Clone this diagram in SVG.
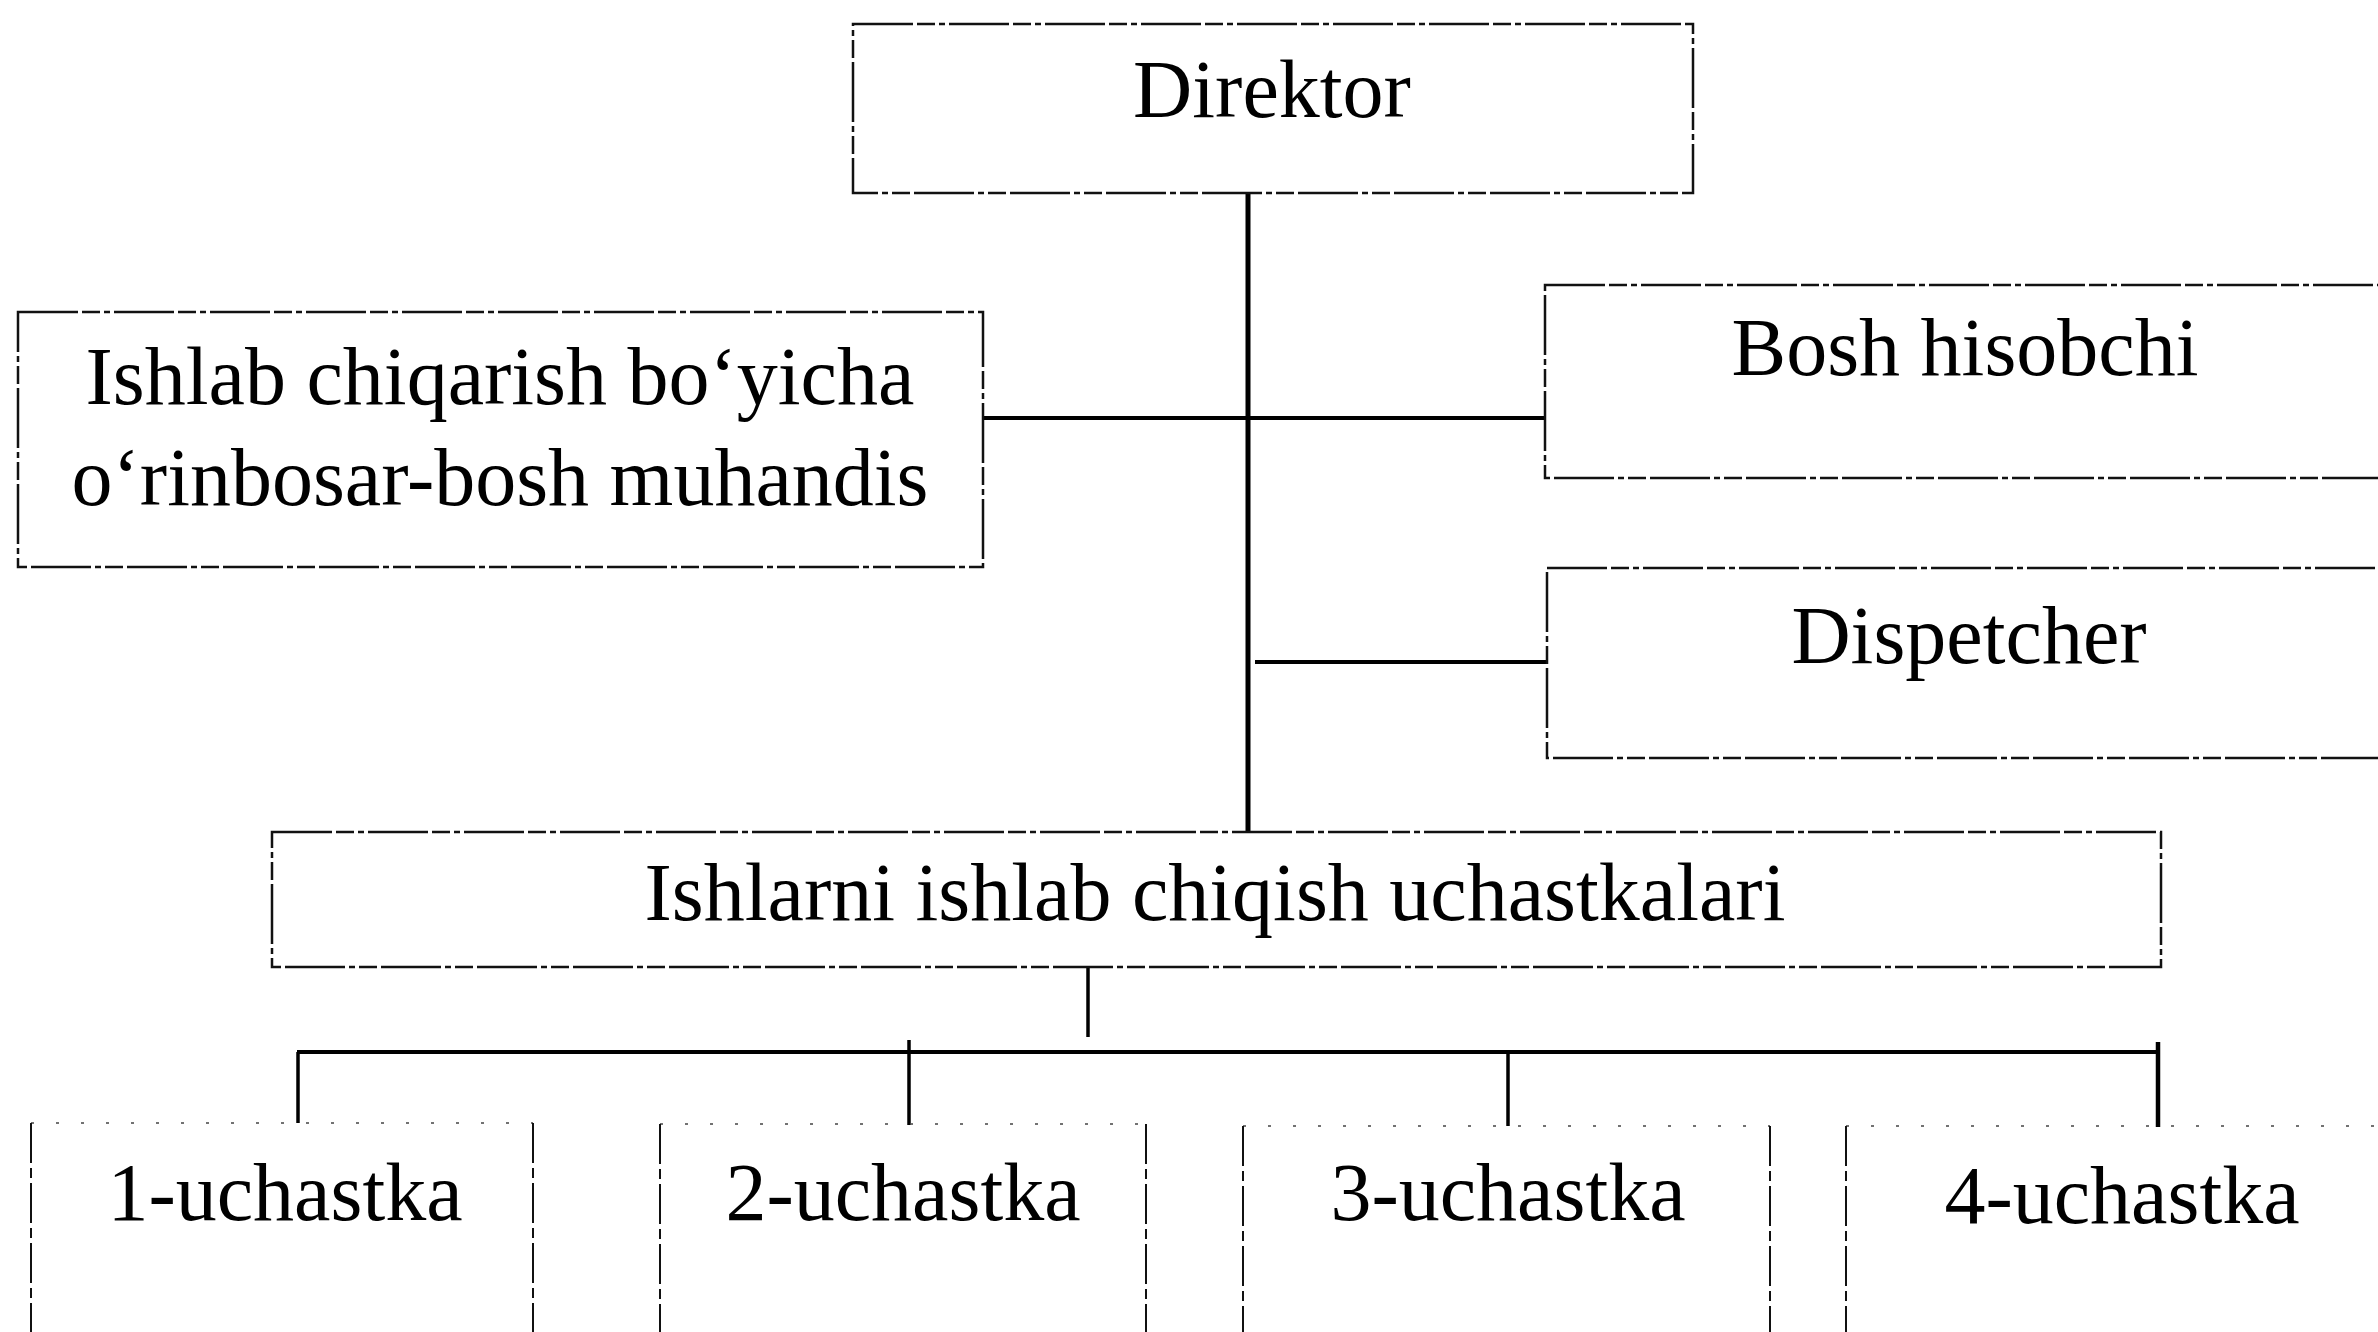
<svg xmlns="http://www.w3.org/2000/svg" width="2378" height="1332" viewBox="0 0 2378 1332">
<style>
.box{fill:none;stroke:#111;stroke-width:2.5;stroke-dasharray:60 4 18 4 6 4}
.ubox{fill:none;stroke:#111;stroke-width:2;stroke-dasharray:40 5 10 5}
.utop{fill:none;stroke:#444;stroke-width:1.5;stroke-dasharray:3 22}
.t{font-family:"Liberation Serif","Times New Roman",serif;font-size:82px;fill:#000;text-anchor:middle}
.c{stroke:#000;fill:none;stroke-linecap:butt}
</style>
<rect width="2378" height="1332" fill="#fff"/>
<g id="connectors">
<line class="c" x1="1248" y1="193" x2="1248" y2="832" stroke-width="5"/>
<line class="c" x1="983" y1="418" x2="1545" y2="418" stroke-width="4"/>
<line class="c" x1="1255" y1="662" x2="1547" y2="662" stroke-width="4"/>
<line class="c" x1="1088" y1="967" x2="1088" y2="1037" stroke-width="3.5"/>
<line class="c" x1="297" y1="1052" x2="2160" y2="1052" stroke-width="4"/>
<line class="c" x1="298" y1="1052" x2="298" y2="1123" stroke-width="3.5"/>
<line class="c" x1="909" y1="1040" x2="909" y2="1125" stroke-width="3.5"/>
<line class="c" x1="1508" y1="1052" x2="1508" y2="1126" stroke-width="3.5"/>
<line class="c" x1="2158" y1="1042" x2="2158" y2="1127" stroke-width="4.5"/>
</g>
<g id="direktor">
<rect class="box" x="853" y="24" width="840" height="169"/>
<text class="t" x="1272" y="117">Direktor</text>
</g>
<g id="bosh-muhandis">
<rect class="box" x="18" y="312" width="965" height="255"/>
<text class="t" x="500" y="404">Ishlab chiqarish bo‘yicha</text>
<text class="t" x="500" y="505">o‘rinbosar-bosh muhandis</text>
</g>
<g id="bosh-hisobchi">
<rect class="box" x="1545" y="285" width="850" height="193"/>
<text class="t" x="1965" y="375">Bosh hisobchi</text>
</g>
<g id="dispetcher">
<rect class="box" x="1547" y="568" width="850" height="190"/>
<text class="t" x="1969" y="663">Dispetcher</text>
</g>
<g id="uchastkalar">
<rect class="box" x="272" y="832" width="1889" height="135"/>
<text class="t" x="1215" y="920">Ishlarni ishlab chiqish uchastkalari</text>
</g>
<g id="u1">
<line class="utop" x1="31" y1="1123" x2="533" y2="1123"/>
<line class="ubox" x1="31" y1="1123" x2="31" y2="1340"/>
<line class="ubox" x1="533" y1="1123" x2="533" y2="1340"/>
<text class="t" x="285" y="1220">1-uchastka</text>
</g>
<g id="u2">
<line class="utop" x1="660" y1="1124" x2="1146" y2="1124"/>
<line class="ubox" x1="660" y1="1124" x2="660" y2="1340"/>
<line class="ubox" x1="1146" y1="1124" x2="1146" y2="1340"/>
<text class="t" x="903" y="1220">2-uchastka</text>
</g>
<g id="u3">
<line class="utop" x1="1243" y1="1126" x2="1770" y2="1126"/>
<line class="ubox" x1="1243" y1="1126" x2="1243" y2="1340"/>
<line class="ubox" x1="1770" y1="1126" x2="1770" y2="1340"/>
<text class="t" x="1508" y="1220">3-uchastka</text>
</g>
<g id="u4">
<line class="utop" x1="1846" y1="1126" x2="2378" y2="1126"/>
<line class="ubox" x1="1846" y1="1126" x2="1846" y2="1340"/>
<text class="t" x="2122" y="1223">4-uchastka</text>
</g>
</svg>
